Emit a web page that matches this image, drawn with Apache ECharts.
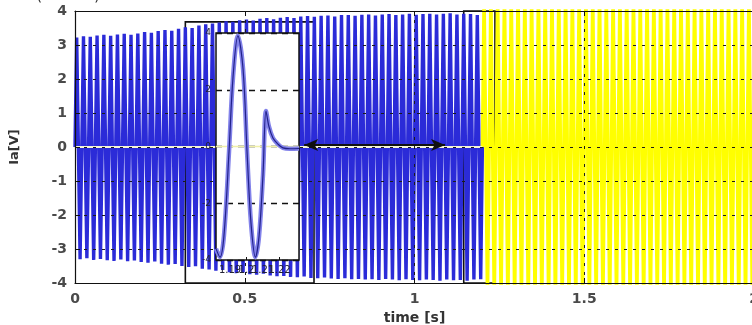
<!DOCTYPE html>
<html>
<head>
<meta charset="utf-8">
<script src="https://cdn.jsdelivr.net/npm/echarts@6/dist/echarts.min.js"></script>
<style>
  html, body { margin: 0; padding: 0; background: #ffffff; }
  #chart { width: 752px; height: 325px; }
</style>
</head>
<body>
<div id="chart"></div>
<script>
// Phase-a current Ia: positive and negative half-wave peaks, one pair per 20 ms cycle.
const cyclePeriod = 0.02;
const faultTime = 1.2;

const blueTop = [
  3.22, 3.26, 3.24, 3.28, 3.30, 3.27, 3.31, 3.33, 3.30, 3.34,
  3.38, 3.36, 3.41, 3.44, 3.42, 3.48, 3.52, 3.50, 3.57, 3.61,
  3.63, 3.66, 3.70, 3.68, 3.73, 3.75, 3.72, 3.77, 3.79, 3.76,
  3.80, 3.82, 3.79, 3.84, 3.85, 3.83, 3.86, 3.87, 3.84, 3.88,
  3.88, 3.86, 3.89, 3.90, 3.87, 3.90, 3.91, 3.88, 3.90, 3.92,
  3.89, 3.91, 3.92, 3.90, 3.92, 3.93, 3.90, 3.92, 3.91, 3.88
];
const blueBottom = [
  -3.30, -3.27, -3.32, -3.29, -3.33, -3.35, -3.31, -3.36, -3.34, -3.38,
  -3.40, -3.37, -3.43, -3.46, -3.44, -3.50, -3.53, -3.51, -3.58, -3.60,
  -3.64, -3.62, -3.68, -3.71, -3.69, -3.74, -3.76, -3.73, -3.78, -3.80,
  -3.79, -3.82, -3.83, -3.81, -3.85, -3.86, -3.84, -3.87, -3.88, -3.86,
  -3.89, -3.88, -3.90, -3.89, -3.91, -3.88, -3.90, -3.92, -3.89, -3.91,
  -3.92, -3.90, -3.91, -3.93, -3.90, -3.92, -3.91, -3.93, -3.90, -3.89
];

// Post-fault current (exceeds the ±4 V window)
const yellowTop = [
  4.55, 4.62, 4.58, 4.66, 4.60, 4.70, 4.64, 4.57, 4.68, 4.61,
  4.66, 4.59, 4.71, 4.63, 4.58, 4.67, 4.62, 4.69, 4.56, 4.65,
  4.60, 4.68, 4.63, 4.57, 4.70, 4.61, 4.66, 4.59, 4.64, 4.69,
  4.58, 4.65, 4.62, 4.70, 4.60, 4.67, 4.63, 4.58, 4.66, 4.61
];
const yellowBottom = [
  -4.58, -4.64, -4.60, -4.69, -4.62, -4.57, -4.67, -4.61, -4.66, -4.59,
  -4.70, -4.63, -4.58, -4.66, -4.61, -4.68, -4.60, -4.65, -4.71, -4.62,
  -4.57, -4.66, -4.60, -4.69, -4.63, -4.58, -4.67, -4.62, -4.65, -4.59,
  -4.70, -4.61, -4.66, -4.58, -4.64, -4.69, -4.60, -4.63, -4.67, -4.62
];
const zeroLevel = 0;

// Zoomed view around the fault instant
const insetTime  = [1.1815, 1.1839, 1.1863, 1.1894, 1.1918, 1.1948, 1.1979, 1.2003, 1.2027, 1.2054, 1.2076, 1.2100, 1.2118, 1.2136, 1.2160, 1.2191, 1.2221, 1.2264, 1.2318];
const insetValue = [-3.60, -3.90, -3.16, -0.17, 2.43, 3.90, 2.73, -0.17, -2.69, -3.90, -3.16, -0.97, 1.25, 0.70, 0.30, 0.08, -0.05, -0.08, -0.07];
const insetRange = [1.1815, 1.2318];
const insetGridTimes = [1.19, 1.21];
const insetLabelsA = [1.19, 1.21];
const insetLabelsB = [1.2, 1.22];
const insetYellowBand = [1.2112, 1.2312];

// Zoom markers and annotation arrow (data coordinates)
const zoomBoxX = [0.325, 0.704];
const zoomBoxY = [-4, 3.68];
const faultBoxX = [1.145, 1.237];
const faultBoxY = [-4, 4];
const arrowX = [0.675, 1.09];
const arrowY = 0.06;

// Axis settings
const xRange = [0, 2];
const xStep = 0.5;
const yRange = [-4, 4];
const yStep = 1;

function peakPolyline(startTime, tops, bottoms) {
  const pts = [[startTime, 0]];
  for (let k = 0; k < tops.length; k++) {
    const t0 = startTime + k * cyclePeriod;
    pts.push([t0 + cyclePeriod / 4, tops[k]]);
    pts.push([t0 + 3 * cyclePeriod / 4, bottoms[k]]);
  }
  return pts;
}

const blueData = peakPolyline(0, blueTop, blueBottom);
blueData.push([faultTime, 0]);
const yellowData = peakPolyline(faultTime, yellowTop, yellowBottom);
const idleData = [[xRange[0], zeroLevel], [faultTime, zeroLevel]];
const insetData = insetTime.map((t, i) => [t, insetValue[i]]);
const insetZero = [[insetRange[0], zeroLevel], [insetRange[1], zeroLevel]];

const labelFont = { fontFamily: 'DejaVu Sans', fontWeight: 'bold', fontSize: 14, color: '#4a4a4a' };
const gridDash = { color: '#1a1a1a', width: 1, type: [3, 6] };

// Two bottom axes share the inset so that its crowded tick labels all stay visible
function insetTimeAxis(labels) {
  return {
    type: 'value', gridIndex: 1, position: 'bottom', offset: 0,
    min: insetRange[0], max: insetRange[1], z: 11,
    axisLine: { show: false },
    axisTick: { show: true, inside: true, length: 3, customValues: labels, lineStyle: { color: '#111' } },
    axisLabel: { show: true, customValues: labels, margin: 5, fontFamily: 'DejaVu Sans',
      fontSize: 10, color: '#223', hideOverlap: false },
    splitLine: { show: false }
  };
}

const chart = echarts.init(document.getElementById('chart'), null, { renderer: 'canvas' });
chart.setOption({
  animation: false,
  backgroundColor: '#ffffff',
  graphic: [{
    type: 'text', left: 36, top: -12,
    style: { text: '(case a)', font: '16px "DejaVu Sans"', fill: '#333' }
  }],
  grid: [
    { left: 75, width: 679, top: 11, height: 272, show: false, outerBoundsMode: 'none', containLabel: false },
    { left: 216, top: 33, width: 83, height: 227, show: true, backgroundColor: '#ffffff',
      borderColor: '#111', borderWidth: 1.5, z: 10, outerBoundsMode: 'none', containLabel: false }
  ],
  xAxis: [
    { type: 'value', gridIndex: 0, min: xRange[0], max: xRange[1], interval: xStep, z: 5,
      name: 'time [s]', nameLocation: 'middle', nameGap: 27,
      nameTextStyle: { fontFamily: 'DejaVu Sans', fontWeight: 'bold', fontSize: 14, color: '#333' },
      axisLine: { show: true, onZero: false, lineStyle: { color: '#111', width: 1.2 } },
      axisTick: { show: true, inside: true, length: 5, lineStyle: { color: '#111' } },
      axisLabel: Object.assign({ margin: 9 }, labelFont),
      splitLine: { show: true, lineStyle: gridDash } },
    { type: 'value', gridIndex: 0, position: 'top', min: xRange[0], max: xRange[1], interval: xStep, z: 5,
      axisLine: { show: true, onZero: false, lineStyle: { color: '#111', width: 1.2 } },
      axisTick: { show: true, inside: true, length: 5, lineStyle: { color: '#111' } },
      axisLabel: { show: false }, splitLine: { show: false } },
    insetTimeAxis(insetLabelsA),
    insetTimeAxis(insetLabelsB)
  ],
  yAxis: [
    { type: 'value', gridIndex: 0, min: yRange[0], max: yRange[1], interval: yStep, z: 5,
      name: 'Ia[V]', nameLocation: 'middle', nameGap: 54, nameRotate: 90,
      nameTextStyle: { fontFamily: 'DejaVu Sans', fontWeight: 'bold', fontSize: 13, color: '#333' },
      axisLine: { show: true, onZero: false, lineStyle: { color: '#111', width: 1.2 } },
      axisTick: { show: true, inside: true, length: 5, lineStyle: { color: '#111' } },
      axisLabel: Object.assign({ margin: 8 }, labelFont),
      splitLine: { show: true, lineStyle: gridDash } },
    { type: 'value', gridIndex: 1, min: -4, max: 4, interval: 2, z: 11,
      axisLine: { show: false },
      axisTick: { show: true, inside: true, length: 3, lineStyle: { color: '#111' } },
      axisLabel: { margin: 5, fontFamily: 'DejaVu Sans', fontSize: 9, color: '#223' },
      splitLine: { show: true, lineStyle: { color: '#111', width: 1.3, type: [6, 5] } } }
  ],
  series: [
    { name: 'Ia pre-fault', type: 'line', xAxisIndex: 0, yAxisIndex: 0, data: blueData,
      symbol: 'none', sampling: null, clip: true, z: 2,
      lineStyle: { color: '#2b2bd8', width: 3.4 } },
    { name: 'Ia post-fault', type: 'line', xAxisIndex: 0, yAxisIndex: 0, data: yellowData,
      symbol: 'none', clip: true, z: 3,
      lineStyle: { color: '#ffff00', width: 3.4 } },
    { name: 'Ia idle', type: 'line', xAxisIndex: 0, yAxisIndex: 0, data: idleData,
      symbol: 'none', clip: true, z: 4,
      lineStyle: { color: '#f6f6d8', width: 2 },
      markArea: {
        silent: true,
        itemStyle: { color: 'rgba(0,0,0,0)', borderColor: '#111', borderWidth: 1.6 },
        data: [
          [{ coord: [zoomBoxX[0], zoomBoxY[1]] }, { coord: [zoomBoxX[1], zoomBoxY[0]] }],
          [{ coord: [faultBoxX[0], faultBoxY[1]] }, { coord: [faultBoxX[1], faultBoxY[0]] }]
        ]
      },
      markLine: {
        silent: true, symbol: ['arrow', 'arrow'], symbolSize: [9, 14],
        label: { show: false },
        lineStyle: { color: '#111', width: 2, type: 'solid' },
        data: [[{ coord: [arrowX[0], arrowY] }, { coord: [arrowX[1], arrowY] }]]
      } },
    { name: 'inset zero', type: 'line', xAxisIndex: 2, yAxisIndex: 1, data: insetZero,
      symbol: 'none', z: 12,
      lineStyle: { color: '#f0f0a8', width: 1.5 },
      markArea: {
        silent: true,
        itemStyle: { color: 'rgba(255,255,120,0.45)' },
        data: [[{ xAxis: insetYellowBand[0] }, { xAxis: insetYellowBand[1] }]]
      },
      markLine: {
        silent: true, symbol: 'none', label: { show: false },
        lineStyle: { color: '#111', width: 1.6, type: [5, 5] },
        data: insetGridTimes.map(t => ({ xAxis: t }))
      } },
    { name: 'Ia zoom band', type: 'line', xAxisIndex: 2, yAxisIndex: 1, data: insetData,
      symbol: 'none', smooth: 0.35, z: 13,
      lineStyle: { color: '#8282ea', width: 4.5 } },
    { name: 'Ia zoom', type: 'line', xAxisIndex: 2, yAxisIndex: 1, data: insetData,
      symbol: 'none', smooth: 0.35, z: 14,
      lineStyle: { color: '#22228a', width: 1.2 } }
  ]
});
</script>
</body>
</html>
